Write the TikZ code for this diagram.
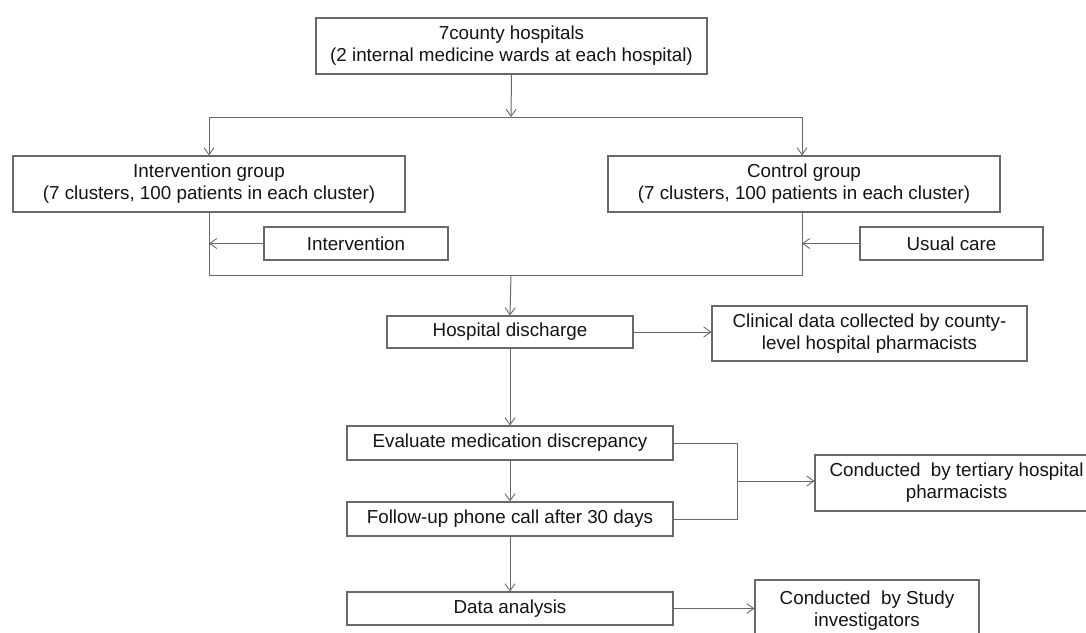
\documentclass[tikz,border=0pt]{standalone}
\usepackage{fontspec}
\setmainfont{Liberation Sans}
\usetikzlibrary{arrows.meta}
\definecolor{linec}{RGB}{105,105,105}
\definecolor{textc}{RGB}{20,20,20}
\tikzset{
  bx/.style={draw=linec, line width=1.1pt, inner sep=0pt, align=center, text=textc, font=\fontsize{18.8}{22}\selectfont},
  ln/.style={draw=linec, line width=1pt},
  ar/.style={ln, -{Straight Barb[length=7pt,width=10pt,line width=0.9pt]}},
}
\newcommand{\bxat}[6]{% name, x1, y1, x2, y2, text
  \node[bx, minimum width={#4-#2}, minimum height={#5-#3}] (#1) at ({(#2+#4)/2},{(#3+#5)/2}) {#6};}
\begin{document}
\begin{tikzpicture}[x=1pt,y=-1pt]
\useasboundingbox (0,0) rectangle (1086,632);
\fill[white] (0,0) rectangle (1086,632);
\bxat{top}{316}{18}{707}{74}{7county hospitals\\(2 internal medicine wards at each hospital)}
\bxat{ig}{13}{156}{405}{212}{Intervention group\\(7 clusters, 100 patients in each cluster)}
\bxat{cg}{608}{156}{1000}{212}{Control group\\(7 clusters, 100 patients in each cluster)}
\bxat{iv}{264}{227}{448}{260}{Intervention}
\bxat{uc}{860}{227}{1043}{260}{Usual care}
\bxat{hd}{387}{316}{633}{348}{Hospital discharge}
\bxat{cd}{712}{306}{1027}{361}{Clinical data collected by county-\\level hospital pharmacists}
\bxat{ev}{347}{426}{673}{460}{Evaluate medication discrepancy}
\bxat{fu}{347}{502}{673}{536}{Follow-up phone call after 30 days}
\bxat{ct}{815}{455}{1098}{511}{Conducted\ \ by tertiary hospital\\pharmacists}
\bxat{da}{347}{592}{673}{625}{Data analysis}
\bxat{cs}{755}{580}{979}{642}{Conducted\ \ by Study\\investigators}
% split
\coordinate (s) at (511,117);
\coordinate (sl) at (209,117);
\coordinate (sr) at (802,117);
\draw[ar] (top.south) -- (s);
\draw[ln] (sl) -- (sr);
\draw[ar] (sl) -- (sl |- ig.north);
\draw[ar] (sr) -- (sr |- cg.north);
% merge
\coordinate (ml) at (209,275);
\coordinate (mr) at (802,275);
\coordinate (mm) at (511,275);
\draw[ln] (ml |- ig.south) -- (ml) -- (mr) -- (mr |- cg.south);
\draw[ar] (iv.west) -- (ml |- iv.west);
\draw[ar] (uc.west) -- (mr |- uc.west);
\draw[ar] (mm) -- (hd.north);
\draw[ar] (hd.east) -- (cd.west |- hd.east);
\draw[ar] (hd.south) -- (ev.north);
\draw[ar] (ev.south) -- (fu.north);
\draw[ar] (fu.south) -- (da.north);
% bracket
\coordinate (b) at (737,481);
\draw[ln] (ev.east) -- (b |- ev.east) -- (b |- fu.east) -- (fu.east);
\draw[ar] (b) -- (ct.west |- b);
\draw[ar] (da.east) -- (cs.west |- da.east);
\end{tikzpicture}
\end{document}
